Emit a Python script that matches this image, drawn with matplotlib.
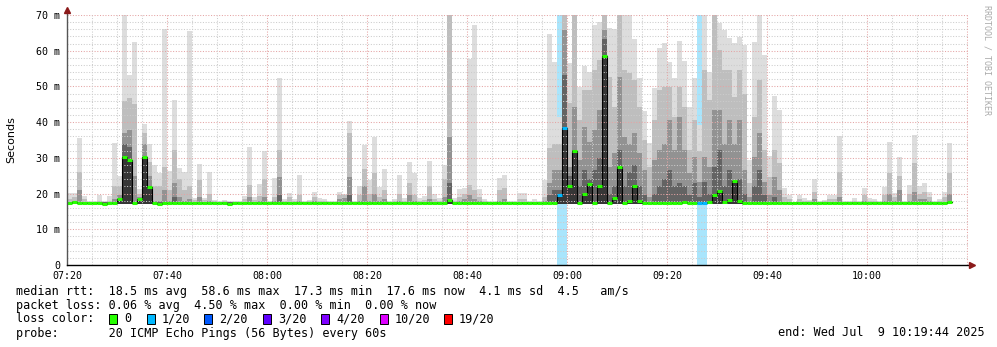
import numpy as np
import matplotlib
matplotlib.use('Agg')
import matplotlib.pyplot as plt
from matplotlib.patches import Rectangle

plt.rcParams['font.family'] = 'DejaVu Sans Mono'

# one column per minute, first column starts 07:20 (values in ms)
hi = [20.3, 20.3, 35.7, 19.4, 17.8, 17.8, 19.5, 17.9, 19.3, 34.3,
      24.9, 70.0, 53.2, 62.5, 21.2, 39.5, 34.0, 28.0, 25.7, 66.1,
      26.4, 46.2, 27.1, 26.0, 65.6, 18.7, 28.3, 18.8, 26.0, 18.2,
      17.8, 18.2, 17.8, 17.8, 17.8, 19.3, 33.1, 19.1, 22.7, 31.9,
      17.8, 24.4, 52.4, 18.4, 20.2, 18.4, 25.3, 17.8, 18.2, 20.4,
      18.8, 18.4, 17.8, 17.8, 20.4, 19.9, 40.3, 17.9, 22.1, 33.7,
      23.8, 35.8, 21.9, 26.9, 17.8, 18.4, 25.2, 18.9, 28.8, 25.9,
      18.7, 19.3, 29.1, 19.8, 18.7, 28.0, 70.0, 18.7, 21.3, 21.7,
      57.7, 67.2, 21.3, 18.5, 17.8, 18.0, 24.4, 25.2, 17.8, 18.0,
      20.1, 20.1, 17.8, 18.4, 17.8, 23.8, 64.7, 56.9, 41.5, 70.0,
      56.5, 70.0, 49.9, 55.7, 54.1, 67.2, 68.1, 70.0, 66.3, 66.0,
      70.0, 70.0, 70.0, 63.2, 52.3, 43.2, 34.1, 49.7, 60.7, 62.1,
      56.9, 52.3, 62.7, 57.0, 44.3, 52.3, 39.2, 70.0, 54.1, 70.0,
      67.7, 65.8, 63.7, 62.3, 63.9, 61.6, 29.5, 62.5, 70.0, 58.8,
      30.6, 47.4, 43.4, 21.5, 19.6, 17.7, 19.6, 18.7, 18.2, 24.0,
      17.8, 18.2, 19.6, 19.6, 36.1, 17.8, 17.8, 18.9, 17.8, 21.7,
      18.9, 18.4, 17.8, 21.9, 34.4, 20.1, 30.2, 17.8, 22.4, 36.4,
      22.1, 23.0, 20.4, 17.8, 18.5, 20.4, 34.1]

mid = [18.5, 19.0, 26.0, 18.5, 17.6, 17.6, 18.0, 17.6, 18.0, 22.0,
       22.0, 46.0, 46.7, 45.0, 20.0, 36.9, 28.9, 22.0, 22.0, 27.5,
       21.0, 32.2, 24.0, 21.0, 22.0, 18.2, 23.8, 18.2, 20.0, 17.8,
       17.6, 17.8, 17.6, 17.6, 17.6, 18.5, 22.4, 18.3, 19.3, 24.0,
       17.6, 19.0, 32.2, 17.8, 19.0, 17.8, 19.5, 17.6, 17.8, 19.0,
       18.0, 17.8, 17.6, 17.6, 19.5, 19.5, 36.9, 17.6, 19.5, 26.9,
       20.0, 25.7, 19.0, 21.0, 17.6, 17.8, 20.0, 18.0, 23.0, 19.5,
       18.0, 18.3, 22.0, 18.5, 18.0, 24.0, 70.0, 18.0, 19.0, 20.0,
       22.4, 21.0, 19.0, 18.0, 17.6, 17.6, 21.0, 21.5, 17.6, 17.6,
       18.5, 18.5, 17.6, 17.6, 17.6, 19.0, 32.7, 34.0, 34.0, 70.0,
       45.3, 70.0, 40.6, 49.0, 49.0, 54.6, 57.4, 70.0, 52.7, 44.3,
       70.0, 54.6, 53.7, 51.8, 44.3, 35.0, 27.5, 40.6, 49.0, 49.9,
       49.9, 41.5, 49.9, 44.3, 32.2, 40.6, 32.0, 54.6, 46.2, 70.0,
       60.2, 54.6, 54.6, 47.1, 54.6, 48.0, 22.9, 41.5, 51.8, 32.2,
       24.7, 32.2, 28.5, 19.0, 18.5, 17.6, 18.5, 18.0, 17.8, 20.5,
       17.6, 17.8, 18.5, 18.5, 26.0, 17.6, 17.6, 18.0, 17.6, 19.5,
       18.0, 17.8, 17.6, 19.5, 25.7, 19.0, 25.0, 17.6, 20.0, 28.5,
       20.0, 20.5, 19.0, 17.6, 18.0, 19.0, 25.7]

dark = [17.6, 18.0, 21.0, 17.6, 17.6, 17.6, 17.6, 17.6, 17.6, 18.5,
        19.5, 36.9, 37.8, 25.0, 19.0, 34.0, 25.0, 18.0, 18.0, 21.0,
        18.0, 23.0, 19.0, 18.0, 18.5, 17.6, 19.0, 17.6, 18.0, 17.6,
        17.6, 17.6, 17.6, 17.6, 17.6, 17.6, 19.0, 17.6, 18.0, 19.0,
        17.6, 17.8, 24.7, 17.6, 17.6, 17.6, 18.0, 17.6, 17.6, 18.0,
        17.6, 17.6, 17.6, 17.6, 18.5, 18.8, 24.7, 17.6, 18.0, 22.1,
        18.0, 20.0, 18.0, 18.5, 17.6, 17.6, 18.0, 17.6, 19.5, 18.0,
        17.6, 17.6, 18.5, 17.6, 17.6, 19.0, 35.9, 17.6, 18.0, 18.5,
        19.5, 18.5, 18.0, 17.6, 17.6, 17.6, 18.0, 18.5, 17.6, 17.6,
        17.6, 17.6, 17.6, 17.6, 17.6, 18.0, 22.9, 26.6, 26.6, 65.8,
        27.5, 44.3, 29.4, 38.7, 34.5, 37.8, 43.4, 65.8, 27.5, 31.3,
        52.7, 35.9, 34.0, 36.9, 31.3, 26.6, 19.0, 29.4, 32.2, 34.0,
        40.6, 32.2, 41.5, 32.2, 25.7, 30.3, 23.3, 30.3, 27.5, 43.4,
        43.4, 34.0, 40.6, 34.0, 40.6, 26.6, 19.0, 30.3, 36.9, 23.3,
        19.5, 24.7, 21.0, 17.6, 17.6, 17.6, 17.6, 17.6, 17.6, 18.5,
        17.6, 17.6, 17.6, 17.6, 19.0, 17.6, 17.6, 17.6, 17.6, 18.0,
        17.6, 17.6, 17.6, 18.0, 20.0, 18.0, 21.0, 17.6, 18.0, 20.5,
        18.5, 18.5, 18.0, 17.6, 17.6, 17.6, 20.0]

deep = [17.6, 17.6, 17.6, 17.6, 17.6, 17.6, 17.6, 17.6, 17.6, 17.6,
        17.6, 34.0, 33.0, 17.6, 17.6, 30.0, 22.0, 17.6, 17.6, 17.6,
        17.6, 19.0, 17.6, 17.6, 17.6, 17.6, 17.6, 17.6, 17.6, 17.6,
        17.6, 17.6, 17.6, 17.6, 17.6, 17.6, 17.6, 17.6, 17.6, 17.6,
        17.6, 17.6, 19.5, 17.6, 17.6, 17.6, 17.6, 17.6, 17.6, 17.6,
        17.6, 17.6, 17.6, 17.6, 17.6, 17.6, 19.5, 17.6, 17.6, 17.6,
        17.6, 17.6, 17.6, 17.6, 17.6, 17.6, 17.6, 17.6, 17.6, 17.6,
        17.6, 17.6, 17.6, 17.6, 17.6, 17.6, 22.9, 17.6, 17.6, 17.6,
        17.6, 17.6, 17.6, 17.6, 17.6, 17.6, 17.6, 17.6, 17.6, 17.6,
        17.6, 17.6, 17.6, 17.6, 17.6, 17.6, 19.5, 21.0, 21.0, 53.2,
        25.0, 32.2, 22.0, 26.6, 24.0, 26.6, 30.0, 63.2, 20.0, 22.0,
        32.2, 22.0, 26.1, 28.0, 22.0, 19.5, 17.6, 20.0, 22.0, 24.0,
        26.6, 22.0, 22.9, 22.0, 19.5, 22.9, 19.0, 23.3, 20.0, 27.5,
        32.2, 22.0, 26.6, 23.3, 24.0, 20.0, 17.6, 22.0, 26.6, 19.5,
        17.6, 19.0, 17.6, 17.6, 17.6, 17.6, 17.6, 17.6, 17.6, 17.6,
        17.6, 17.6, 17.6, 17.6, 17.6, 17.6, 17.6, 17.6, 17.6, 17.6,
        17.6, 17.6, 17.6, 17.6, 17.6, 17.6, 17.6, 17.6, 17.6, 17.6,
        17.6, 17.6, 17.6, 17.6, 17.6, 17.6, 17.6]

med = [17.4, 17.6, 17.5, 17.5, 17.4, 17.4, 17.4, 17.2, 17.4, 17.3,
       18.5, 30.2, 29.5, 17.3, 18.6, 30.2, 21.8, 17.3, 17.2, 17.3,
       17.3, 17.5, 17.5, 17.5, 17.5, 17.5, 17.3, 17.5, 17.5, 17.5,
       17.3, 17.5, 17.2, 17.5, 17.5, 17.5, 17.5, 17.5, 17.5, 17.5,
       17.5, 17.3, 17.3, 17.5, 17.3, 17.3, 17.3, 17.3, 17.3, 17.3,
       17.3, 17.3, 17.3, 17.3, 17.5, 17.4, 17.5, 17.3, 17.5, 17.5,
       17.5, 17.5, 17.5, 17.5, 17.3, 17.5, 17.5, 17.5, 17.5, 17.5,
       17.5, 17.5, 17.5, 17.5, 17.3, 17.5, 18.2, 17.3, 17.5, 17.5,
       17.3, 17.5, 17.5, 17.5, 17.5, 17.5, 17.5, 17.5, 17.5, 17.5,
       17.5, 17.5, 17.5, 17.5, 17.5, 17.5, 17.5, 17.5, 19.6, 38.3,
       22.2, 32.0, 17.5, 19.8, 22.7, 17.5, 22.1, 58.6, 17.5, 18.7,
       27.5, 17.3, 17.9, 22.1, 17.9, 17.5, 17.5, 17.5, 17.3, 17.5,
       17.5, 17.3, 17.5, 17.6, 17.3, 17.5, 17.5, 17.5, 17.7, 19.6,
       20.8, 17.7, 18.2, 23.5, 18.0, 17.5, 17.5, 17.5, 17.5, 17.5,
       17.5, 17.5, 17.5, 17.5, 17.3, 17.5, 17.5, 17.3, 17.5, 17.5,
       17.5, 17.5, 17.5, 17.3, 17.5, 17.5, 17.5, 17.5, 17.5, 17.5,
       17.5, 17.3, 17.5, 17.5, 17.5, 17.5, 17.3, 17.5, 17.5, 17.5,
       17.3, 17.5, 17.5, 17.3, 17.5, 17.5, 17.6]

min_rtt = 17.2
loss_cols = [98, 99, 126, 127]   # columns with 1/20 loss

time_ticks = [0, 20, 40, 60, 80, 100, 120, 140, 160]
time_labels = ['07:20', '07:40', '08:00', '08:20', '08:40', '09:00', '09:20', '09:40', '10:00']
y_ticks = [0, 10, 20, 30, 40, 50, 60, 70]
y_labels = ['0', '10 m', '20 m', '30 m', '40 m', '50 m', '60 m', '70 m']

legend_names = ['0', '1/20', '2/20', '3/20', '4/20', '10/20', '19/20']
legend_colors = ['#26ff00', '#00b8ff', '#0059ff', '#5e00ff', '#7e00ff', '#dd00ff', '#ff0000']

n = len(med)
x = np.arange(n)

fig = plt.figure(figsize=(9.97, 3.47), dpi=100)
W, H = 997.0, 347.0
ax = fig.add_axes([67 / W, 82 / H, 901 / W, 250 / H])
ax.set_xlim(0, 180.2)
ax.set_ylim(0, 70)

# loss background
ax.bar(loss_cols, 70, width=1, align='edge', color='#a9e5fc', linewidth=0, antialiased=False, zorder=0.5)

# smoke
for top, col in [(hi, '#dddddd'), (mid, '#bebebe'), (dark, '#929292'), (deep, '#636363'), (med, '#363636')]:
    top = np.array(top)
    ax.bar(x, top - min_rtt, bottom=min_rtt, width=1, align='edge', color=col,
           linewidth=0, antialiased=False, zorder=1)

# grid
for v in range(2, 71, 2):
    c = '#e4a4a4' if v % 10 == 0 else '#cccccc'
    ax.axhline(v, color=c, lw=0.75, ls=(0, (1, 1.6)), zorder=2)
for m in range(5, 181, 5):
    c = '#e4a4a4' if m % 20 == 0 else '#cccccc'
    ax.axvline(m, color=c, lw=0.75, ls=(0, (1, 1.6)), zorder=2)

# median line + loss colored median marks
ax.step(np.append(x, n), list(med) + [med[-1]], where='post', color='#000000', lw=0.8, zorder=3)
mcol = [legend_colors[1] if i in loss_cols else legend_colors[0] for i in range(n)]
ax.hlines(med, x, x + 1, colors=mcol, lw=2.2, zorder=4, capstyle='butt')

# axes with arrows
for s in ax.spines.values():
    s.set_visible(False)
ax.plot([0, 0], [0, 71.2], color='#555555', lw=1, clip_on=False, zorder=5)
ax.plot([0, 181], [0, 0], color='#000000', lw=1, clip_on=False, zorder=5)
ax.plot(0, 71.4, marker='^', color='#8b1a1a', ms=4, clip_on=False, zorder=6)
ax.plot(181, 0, marker='>', color='#8b1a1a', ms=4, clip_on=False, zorder=6)

ax.set_xticks(time_ticks)
ax.set_xticklabels(time_labels)
ax.set_yticks(y_ticks)
ax.set_yticklabels(y_labels)
ax.tick_params(length=0, labelsize=7.2)
ax.tick_params(axis='y', pad=5)
ax.tick_params(axis='x', pad=4)

fig.text(11 / W, 1 - 140 / H, 'Seconds', rotation=90, ha='center', va='center',
         fontsize=8, family='DejaVu Sans')
fig.text(987 / W, 1 - 60 / H, 'RRDTOOL / TOBI OETIKER', rotation=270, ha='center', va='center',
         fontsize=6, color='#aaaaaa')

fs = 8.5
fig.text(16 / W, 1 - 291 / H, 'median rtt:  18.5 ms avg  58.6 ms max  17.3 ms min  17.6 ms now  4.1 ms sd  4.5   am/s',
         fontsize=fs, va='center')
fig.text(16 / W, 1 - 305 / H, 'packet loss: 0.06 % avg  4.50 % max  0.00 % min  0.00 % now',
         fontsize=fs, va='center')
fig.text(16 / W, 1 - 319 / H, 'loss color:', fontsize=fs, va='center')
box_x = [109, 147, 204, 263, 321, 380, 444]
for bx, name, col in zip(box_x, legend_names, legend_colors):
    fig.patches.append(Rectangle((bx / W, 1 - 324 / H), 8 / W, 10 / H, transform=fig.transFigure,
                                 facecolor=col, edgecolor='#000000', lw=0.7))
    fig.text((bx + 15) / W, 1 - 319 / H, name, fontsize=fs, va='center')
fig.text(16 / W, 1 - 333 / H, 'probe:       20 ICMP Echo Pings (56 Bytes) every 60s', fontsize=fs, va='center')
fig.text(985 / W, 1 - 333 / H, 'end: Wed Jul  9 10:19:44 2025', fontsize=fs, va='center', ha='right')

fig.savefig('out.png', dpi=100, facecolor='white')
